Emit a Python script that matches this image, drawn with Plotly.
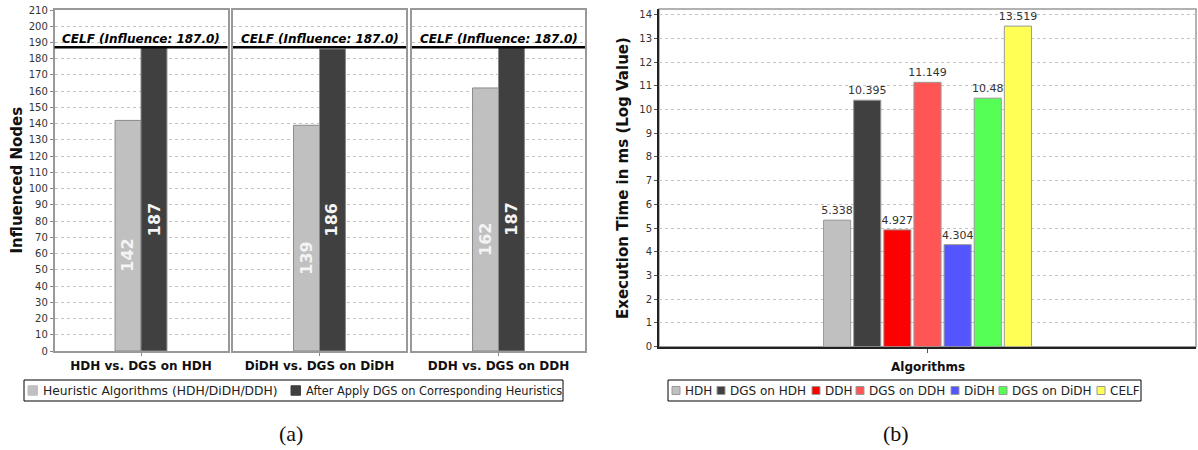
import plotly.graph_objects as go

W, H = 1198, 450
FONT = "DejaVu Sans"

# ---------------- data: panel (a) ----------------
comparisons = ["HDH vs. DGS on HDH", "DiDH vs. DGS on DiDH", "DDH vs. DGS on DDH"]
heuristic_vals = [142, 139, 162]
dgs_vals = [187, 186, 187]
celf_influence = 187.0
a_series = ["Heuristic Algorithms (HDH/DiDH/DDH)",
            "After Apply DGS on Corresponding Heuristics"]
a_colors = ["#c0c0c0", "#404040"]

# ---------------- data: panel (b) ----------------
algorithms = ["HDH", "DGS on HDH", "DDH", "DGS on DDH", "DiDH", "DGS on DiDH", "CELF"]
exec_log_ms = [5.338, 10.395, 4.927, 11.149, 4.304, 10.48, 13.519]
b_colors = ["#c0c0c0", "#404040", "#ff0000", "#ff5555", "#5555ff", "#55ff55", "#ffff55"]

BARGAP = 0.1


def px(x):
    return x / W


def py(y):
    return 1 - y / H


fig = go.Figure()
annotations = []
shapes = []

# panel (a) bars
for i, comp in enumerate(comparisons):
    ax = "" if i == 0 else str(i + 1)
    for s, vals in enumerate([heuristic_vals, dgs_vals]):
        fig.add_trace(go.Bar(
            x=[comp], y=[vals[i]],
            xaxis="x" + ax, yaxis="y" + ax,
            name=a_series[s], showlegend=False,
            marker=dict(color=a_colors[s], line=dict(color="#8a8a8a", width=1)),
            hoverinfo="x+y",
        ))
        # rotated value label inside the bar (slightly below the middle)
        annotations.append(dict(
            xref="x" + ax, yref="y" + ax,
            x=(-1 if s == 0 else 1) * (1 - BARGAP) / 4, y=vals[i] / 2,
            text="<b>%d</b>" % vals[i], textangle=-90, showarrow=False,
            xanchor="center", yanchor="middle", yshift=-20,
            font=dict(family=FONT, size=16, color="#f4f4f4"),
        ))

# panel (b) bars
for j, algo in enumerate(algorithms):
    fig.add_trace(go.Bar(
        x=[algo], y=[exec_log_ms[j]],
        xaxis="x4", yaxis="y4", name=algo, offsetgroup="b", showlegend=False,
        marker=dict(color=b_colors[j], line=dict(color="#9a9a9a", width=1)),
        text=["%g" % exec_log_ms[j]], textposition="outside", constraintext="none",
        textfont=dict(family=FONT, size=11, color="#333333"),
        cliponaxis=False,
    ))

layout = dict(
    width=W, height=H, autosize=False,
    margin=dict(l=0, r=0, t=0, b=0, pad=0),
    paper_bgcolor="white", plot_bgcolor="white",
    font=dict(family=FONT, size=11, color="#333333"),
    barmode="group", bargap=BARGAP, bargroupgap=0.0,
    showlegend=False,
)

a_xdomains = [(54.5, 227.5), (233, 406), (412, 585)]
a_ydom = [py(351), py(10)]
for i, (x0, x1) in enumerate(a_xdomains):
    k = "" if i == 0 else str(i + 1)
    layout["xaxis" + k] = dict(
        domain=[px(x0), px(x1)], anchor="y" + k, type="category",
        range=[-1.5, 1.5], showgrid=False, zeroline=False,
        showline=True, mirror=True, linecolor="#999999", linewidth=1.5,
        ticks="outside", ticklen=3, tickcolor="#888888",
        tickfont=dict(family=FONT, size=12, color="#111111", weight="bold"),
        fixedrange=True, automargin=False,
    )
    layout["yaxis" + k] = dict(
        domain=a_ydom, anchor="x" + k, range=[0, 210], dtick=10, tick0=0,
        showgrid=True, gridcolor="#c4c4c4", griddash="dot", gridwidth=1,
        zeroline=False, showline=True, mirror=True,
        linecolor="#999999", linewidth=1.5,
        showticklabels=(i == 0), ticks="outside" if i == 0 else "",
        ticklen=3, tickcolor="#888888",
        tickfont=dict(family=FONT, size=10, color="#333333"),
        fixedrange=True, automargin=False,
    )

layout["xaxis4"] = dict(
    domain=[px(659), px(1196)], anchor="y4", type="category",
    categoryorder="array", categoryarray=algorithms,
    range=[-5.91, 11.91], showgrid=False, zeroline=False,
    showline=True, linecolor="#222222", linewidth=2,
    showticklabels=False, tickvals=[algorithms[3]],
    ticks="outside", ticklen=4, tickcolor="#555555",
    fixedrange=True, automargin=False,
)
layout["yaxis4"] = dict(
    domain=[py(346.7), py(9)], anchor="x4", range=[0, 14.24], dtick=1, tick0=0,
    showgrid=True, gridcolor="#c4c4c4", griddash="dot", gridwidth=1,
    zeroline=False, showline=True, linecolor="#222222", linewidth=2,
    ticks="outside", ticklen=3, tickcolor="#555555",
    tickfont=dict(family=FONT, size=10, color="#333333"),
    fixedrange=True, automargin=False,
)

for i in range(3):
    k = "" if i == 0 else str(i + 1)
    shapes.append(dict(
        type="line", xref="x%s domain" % k, yref="y" + k,
        x0=0, x1=1, y0=celf_influence, y1=celf_influence,
        line=dict(color="#000000", width=2.5), layer="above",
    ))
    annotations.append(dict(
        xref="x%s domain" % k, yref="y" + k, x=0.5, y=celf_influence,
        xanchor="center", yanchor="bottom", showarrow=False, yshift=-1,
        text="<b><i>CELF (Influence: %.1f)</i></b>" % celf_influence,
        font=dict(family=FONT, size=12, color="#000000"),
    ))

# panel (b) top/right gray frame
shapes.append(dict(
    type="rect", xref="x4 domain", yref="y4 domain", x0=0, x1=1, y0=0, y1=1,
    line=dict(color="#999999", width=1.5), layer="below",
))


# ---------------- legends (drawn as boxes + text) ----------------
def legend_box(x0, x1, y0, y1):
    shapes.append(dict(type="rect", xref="paper", yref="paper",
                       x0=px(x0), x1=px(x1), y0=py(y1), y1=py(y0),
                       line=dict(color="#000000", width=1), fillcolor="white",
                       layer="above"))


def legend_item(sx, label, color, size, outline, fs):
    yc = 390.5
    shapes.append(dict(type="rect", xref="paper", yref="paper",
                       x0=px(sx), x1=px(sx + size), y0=py(yc + size / 2), y1=py(yc - size / 2),
                       line=dict(color=outline, width=1),
                       fillcolor=color, layer="above"))
    annotations.append(dict(xref="paper", yref="paper", x=px(sx + size + 3), y=py(yc),
                            text=label, showarrow=False, xanchor="left", yanchor="middle",
                            font=dict(family=FONT, size=fs, color="#222222")))


legend_box(24, 563, 380, 401)
a_sym_x = [28, 291]
a_leg_fs = [12.3, 11.4]
for s in range(2):
    legend_item(a_sym_x[s], a_series[s], a_colors[s], 9.5, a_colors[s], a_leg_fs[s])

legend_box(668, 1141, 380, 401)
b_sym_x = [672, 717, 812, 856, 951, 999, 1097]
for j in range(len(algorithms)):
    legend_item(b_sym_x[j], algorithms[j], b_colors[j], 8, "#999999", 12)

# axis titles & captions
annotations += [
    dict(xref="paper", yref="paper", x=px(16), y=(a_ydom[0] + a_ydom[1]) / 2,
         text="<b>Influenced Nodes</b>", textangle=-90, showarrow=False,
         xanchor="center", yanchor="middle",
         font=dict(family=FONT, size=15, color="#111111")),
    dict(xref="paper", yref="paper", x=px(623), y=py(178),
         text="<b>Execution Time in ms (Log Value)</b>", textangle=-90, showarrow=False,
         xanchor="center", yanchor="middle",
         font=dict(family=FONT, size=15, color="#111111")),
    dict(xref="paper", yref="paper", x=px(927.5), y=py(367),
         text="<b>Algorithms</b>", showarrow=False,
         xanchor="center", yanchor="middle",
         font=dict(family=FONT, size=12, color="#111111")),
    dict(xref="paper", yref="paper", x=px(291), y=py(433),
         text="(a)", showarrow=False, xanchor="center", yanchor="middle",
         font=dict(family="Liberation Serif", size=22, color="#111111")),
    dict(xref="paper", yref="paper", x=px(896), y=py(433),
         text="(b)", showarrow=False, xanchor="center", yanchor="middle",
         font=dict(family="Liberation Serif", size=22, color="#111111")),
]

layout["shapes"] = shapes
layout["annotations"] = annotations
fig.update_layout(**layout)

fig.write_html(
    "out.html",
    config={"displayModeBar": False},
    post_script="document.body.style.margin='0';document.body.style.padding='0';",
)
